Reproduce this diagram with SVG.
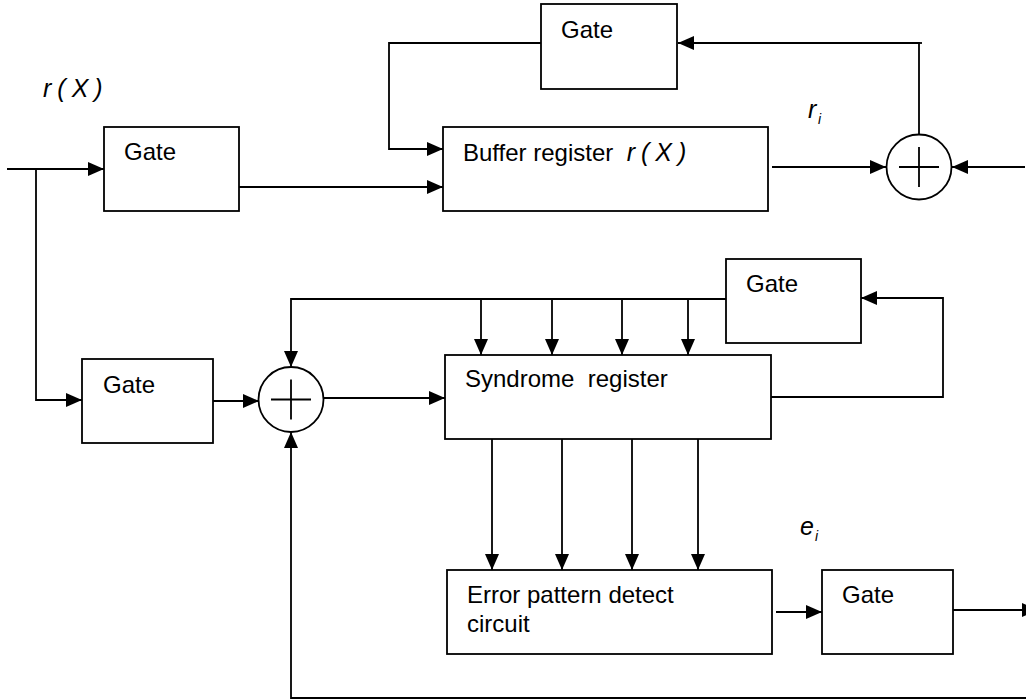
<svg xmlns="http://www.w3.org/2000/svg" width="1026" height="700" viewBox="0 0 1026 700">
<style>
  .box{fill:#fff;stroke:#000;stroke-width:1.8}
  .wire{fill:none;stroke:#000;stroke-width:1.8}
  .t{font-family:"Liberation Sans",Arial,sans-serif;font-size:24px;fill:#000}
  .m{font-family:"Liberation Sans",Arial,sans-serif;font-size:25px;font-style:italic;fill:#000}
  .sub{font-family:"Liberation Sans",Arial,sans-serif;font-size:14px;font-style:italic;fill:#000}
</style>
<defs>
  <marker id="ah" markerUnits="userSpaceOnUse" markerWidth="16" markerHeight="14" refX="16" refY="7" orient="auto">
    <path d="M0,0 L16,7 L0,14 z" fill="#000"/>
  </marker>
</defs>

<g id="connectors">
  <path class="wire" d="M7,169 H104" marker-end="url(#ah)"/>
  <path class="wire" d="M36,169 V400 H82" marker-end="url(#ah)"/>
  <path class="wire" d="M239,187 H443" marker-end="url(#ah)"/>
  <path class="wire" d="M541,43 H389 V149 H443" marker-end="url(#ah)"/>
  <path class="wire" d="M919,135 V43 H678" marker-end="url(#ah)"/>
  <path class="wire" d="M919,43 H922"/>
  <path class="wire" d="M772,167 H886" marker-end="url(#ah)"/>
  <path class="wire" d="M1025,167 H952" marker-end="url(#ah)"/>
  <path class="wire" d="M213,401 H259" marker-end="url(#ah)"/>
  <path class="wire" d="M323,398 H445" marker-end="url(#ah)"/>
  <path class="wire" d="M726,299 H291 V367" marker-end="url(#ah)"/>
  <path class="wire" d="M481,299 V355" marker-end="url(#ah)"/>
  <path class="wire" d="M552,299 V355" marker-end="url(#ah)"/>
  <path class="wire" d="M622,299 V355" marker-end="url(#ah)"/>
  <path class="wire" d="M688,299 V355" marker-end="url(#ah)"/>
  <path class="wire" d="M771,397 H943 V298 H861" marker-end="url(#ah)"/>
  <path class="wire" d="M492,439 V570" marker-end="url(#ah)"/>
  <path class="wire" d="M562,439 V570" marker-end="url(#ah)"/>
  <path class="wire" d="M632,439 V570" marker-end="url(#ah)"/>
  <path class="wire" d="M698,439 V570" marker-end="url(#ah)"/>
  <path class="wire" d="M776,612 H822" marker-end="url(#ah)"/>
  <path class="wire" d="M953,610 H1038" marker-end="url(#ah)"/>
  <path class="wire" d="M1026,698 H291 V432" marker-end="url(#ah)"/>
</g>

<g id="label-rX">
  <text class="m" x="43" y="97" letter-spacing="6">r(X)</text>
</g>

<g id="gate1">
  <rect class="box" x="104" y="127" width="135" height="84"/>
  <text class="t" x="124" y="160">Gate</text>
</g>

<g id="buffer">
  <rect class="box" x="443" y="127" width="325" height="84"/>
  <text class="t" x="463" y="161" xml:space="preserve">Buffer register  <tspan class="m" letter-spacing="6">r(X)</tspan></text>
</g>

<g id="gate-top">
  <rect class="box" x="541" y="4" width="136" height="85"/>
  <text class="t" x="561" y="38">Gate</text>
</g>

<g id="label-ri">
  <text class="m" x="808" y="118">r</text>
  <text class="sub" x="818" y="124">i</text>
</g>

<g id="adder1">
  <circle cx="919" cy="167" r="32.5" fill="#fff" stroke="#000" stroke-width="1.8"/>
  <path class="wire" d="M899,167 H939 M919,147 V187"/>
</g>

<g id="gate2">
  <rect class="box" x="82" y="359" width="131" height="84"/>
  <text class="t" x="103" y="393">Gate</text>
</g>

<g id="adder2">
  <circle cx="291" cy="399.5" r="32.5" fill="#fff" stroke="#000" stroke-width="1.8"/>
  <path class="wire" d="M271,399.5 H311 M291,379.5 V419.5"/>
</g>

<g id="syndrome">
  <rect class="box" x="445" y="355" width="326" height="84"/>
  <text class="t" x="465" y="387" xml:space="preserve">Syndrome  register</text>
</g>

<g id="gate3">
  <rect class="box" x="726" y="259" width="135" height="84"/>
  <text class="t" x="746" y="292">Gate</text>
</g>

<g id="error-detect">
  <rect class="box" x="447" y="570" width="325" height="84"/>
  <text class="t" x="467" y="603">Error pattern detect</text>
  <text class="t" x="467" y="632">circuit</text>
</g>

<g id="label-ei">
  <text class="m" x="800" y="535">e</text>
  <text class="sub" x="815" y="541">i</text>
</g>

<g id="gate4">
  <rect class="box" x="822" y="570" width="131" height="84"/>
  <text class="t" x="842" y="603">Gate</text>
</g>
</svg>
